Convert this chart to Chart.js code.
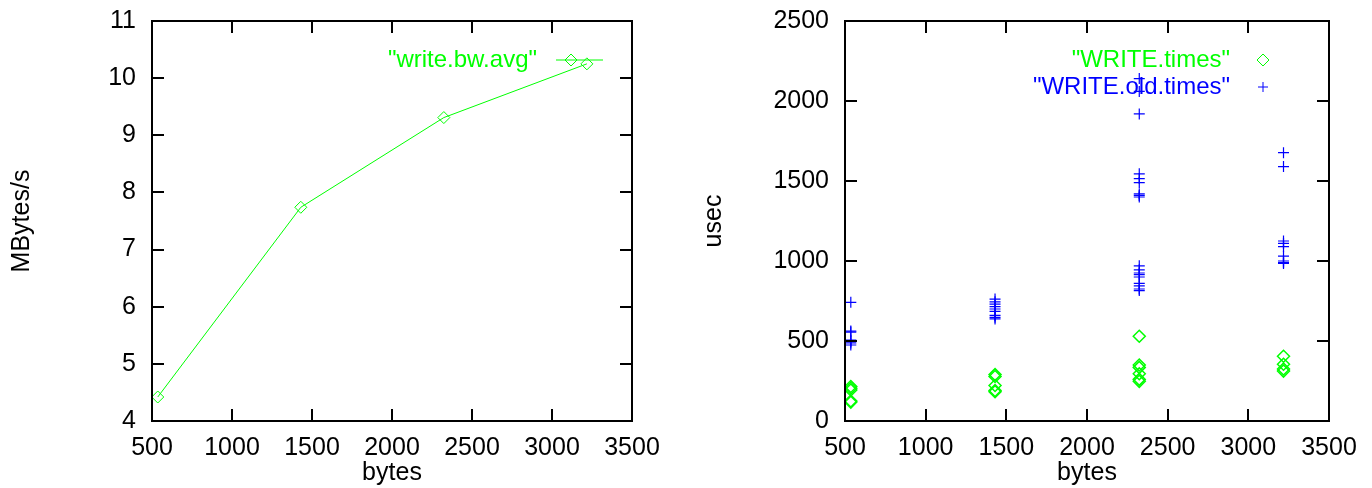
<!DOCTYPE html>
<html>
<head>
<meta charset="utf-8">
<title>write bandwidth / write times</title>
<script src="https://cdn.jsdelivr.net/npm/chart.js@4/dist/chart.umd.min.js"></script>
<style>
  html, body { margin: 0; padding: 0; background: #fff; }
  #wrap { position: relative; width: 1372px; height: 488px; overflow: hidden; }
  canvas { position: absolute; top: 0; }
</style>
</head>
<body>
<div id="wrap">
  <canvas id="bwchart" width="686" height="488" style="left:0"></canvas>
  <canvas id="timeschart" width="686" height="488" style="left:686px"></canvas>
</div>
<script>
// message sizes (bytes) used by both plots
const sizes = [536, 1430, 2324, 3218];

// left plot: average write bandwidth
const bwAvg = [4.42, 7.74, 9.31, 10.25];

// right plot: individual samples per size, in usec
const writeTimes = [
  [216, 205, 194, 125, 118],
  [290, 278, 222, 190, 183],
  [530, 350, 335, 295, 260, 248],
  [405, 355, 325, 312]
];
const writeOldTimes = [
  [742, 562, 556, 505, 498, 488, 475],
  [762, 745, 730, 715, 700, 685, 660, 648, 638],
  [2140, 2060, 1919, 1545, 1515, 1490, 1420, 1410, 1400,
   970, 945, 925, 915, 900, 860, 845, 825, 815],
  [1677, 1590, 1125, 1110, 1090, 1030, 1000, 990, 985]
];

// tick labels
const bytesTicks = [500, 1000, 1500, 2000, 2500, 3000, 3500];
const bwTicks = [4, 5, 6, 7, 8, 9, 10, 11];
const usecTicks = [0, 500, 1000, 1500, 2000, 2500];

const GREEN = "#00ff00";
const BLUE = "#0000ff";
const FONT = "'Liberation Sans', Arial, sans-serif";

Chart.defaults.font.family = FONT;
Chart.defaults.font.size = 25;
Chart.defaults.color = "#000";

function samples(lists) {
    const pts = [];
    lists.forEach((list, i) => list.forEach(v => pts.push({ x: sizes[i], y: v })));
    return pts;
}

function marker(ctx, style, x, y, r) {
    ctx.beginPath();
    if (style === "rectRot") {
        ctx.moveTo(x, y - r); ctx.lineTo(x + r, y);
        ctx.lineTo(x, y + r); ctx.lineTo(x - r, y);
        ctx.closePath();
    } else {
        ctx.moveTo(x - r, y); ctx.lineTo(x + r, y);
        ctx.moveTo(x, y - r); ctx.lineTo(x, y + r);
    }
    ctx.stroke();
}

// gnuplot-like box: border, inward ticks on all sides, key inside top right
const gnuplotFrame = {
    id: "gnuplotFrame",
    afterDraw(chart, args, opts) {
        const { ctx, chartArea: a, scales } = chart;
        const len = 12;
        ctx.save();
        ctx.strokeStyle = "#000";
        ctx.lineWidth = 2;
        ctx.strokeRect(a.left, a.top, a.right - a.left, a.bottom - a.top);
        ctx.beginPath();
        scales.x.ticks.forEach(t => {
            const px = Math.round(scales.x.getPixelForValue(t.value));
            if (px <= a.left + 1 || px >= a.right - 1) return;
            ctx.moveTo(px, a.bottom); ctx.lineTo(px, a.bottom - len);
            ctx.moveTo(px, a.top); ctx.lineTo(px, a.top + len);
        });
        scales.y.ticks.forEach(t => {
            const py = Math.round(scales.y.getPixelForValue(t.value));
            if (py <= a.top + 1 || py >= a.bottom - 1) return;
            ctx.moveTo(a.left, py); ctx.lineTo(a.left + len, py);
            ctx.moveTo(a.right, py); ctx.lineTo(a.right - len, py);
        });
        ctx.stroke();

        // key
        ctx.font = "24px " + FONT;
        ctx.textAlign = "right";
        ctx.textBaseline = "middle";
        (opts.items || []).forEach((it, i) => {
            const y = a.top + 39 + i * 27;
            ctx.fillStyle = it.color;
            ctx.fillText(it.text, a.right - opts.textGap, y);
            ctx.strokeStyle = it.color;
            ctx.lineWidth = 1;
            if (it.line) {
                ctx.beginPath();
                ctx.moveTo(a.right - 76, y); ctx.lineTo(a.right - 29, y);
                ctx.stroke();
            }
            marker(ctx, it.style, a.right - opts.markerGap, y, it.style === "rectRot" ? 6 : 5);
        });
        ctx.restore();
    }
};

// invisible tick marks only provide the gap between axis and labels
function hiddenGrid(len) {
    return { display: true, drawOnChartArea: false, drawTicks: true, tickLength: len, color: "rgba(0,0,0,0)", tickColor: "rgba(0,0,0,0)" };
}

function axes(yTicks, yTitle, yWidth, yTitlePad, yMin, yMax) {
    return {
        x: {
            type: "linear",
            min: 500, max: 3500,
            afterBuildTicks: s => { s.ticks = bytesTicks.map(v => ({ value: v })); },
            afterFit: s => { s.height = 67; },
            grid: hiddenGrid(12),
            border: { display: false },
            ticks: { padding: 0, maxRotation: 0, callback: v => String(v) },
            title: { display: true, text: "bytes", padding: { top: 0, bottom: 0 } }
        },
        y: {
            type: "linear",
            min: yMin, max: yMax,
            afterBuildTicks: s => { s.ticks = yTicks.map(v => ({ value: v })); },
            afterFit: s => { s.width = yWidth; },
            grid: hiddenGrid(16),
            border: { display: false },
            ticks: { padding: 0, callback: v => String(v) },
            title: { display: true, text: yTitle, padding: { top: yTitlePad, bottom: 0 } }
        }
    };
}

new Chart(document.getElementById("bwchart"), {
    type: "scatter",
    data: {
        datasets: [{
            label: '"write.bw.avg"',
            data: sizes.map((s, i) => ({ x: s, y: bwAvg[i] })),
            showLine: true,
            borderColor: GREEN,
            borderWidth: 1,
            pointStyle: "rectRot",
            pointRadius: 6,
            pointBorderWidth: 1,
            pointBorderColor: GREEN,
            pointBackgroundColor: "rgba(0,0,0,0)"
        }]
    },
    options: {
        responsive: false,
        animation: false,
        devicePixelRatio: 1,
        layout: { padding: { top: 21, right: 54, bottom: 0, left: 0 } },
        scales: axes(bwTicks, "MBytes/s", 152, 7, 4, 11),
        plugins: {
            legend: { display: false },
            tooltip: { enabled: false },
            gnuplotFrame: {
                textGap: 95, markerGap: 61,
                items: [{ text: '"write.bw.avg"', color: GREEN, style: "rectRot", line: true }]
            }
        }
    },
    plugins: [gnuplotFrame]
});

new Chart(document.getElementById("timeschart"), {
    type: "scatter",
    data: {
        datasets: [{
            label: '"WRITE.times"',
            data: samples(writeTimes),
            pointStyle: "rectRot",
            pointRadius: 6,
            pointBorderWidth: 1.5,
            pointBorderColor: GREEN,
            pointBackgroundColor: "rgba(0,0,0,0)"
        }, {
            label: '"WRITE.old.times"',
            data: samples(writeOldTimes),
            pointStyle: "cross",
            pointRadius: 5.5,
            pointBorderWidth: 1.2,
            pointBorderColor: BLUE,
            pointBackgroundColor: BLUE
        }]
    },
    options: {
        responsive: false,
        animation: false,
        devicePixelRatio: 1,
        layout: { padding: { top: 21, right: 43, bottom: 0, left: 0 } },
        scales: axes(usecTicks, "usec", 159, 13, 0, 2500),
        plugins: {
            legend: { display: false },
            tooltip: { enabled: false },
            gnuplotFrame: {
                textGap: 99, markerGap: 66,
                items: [
                    { text: '"WRITE.times"', color: GREEN, style: "rectRot" },
                    { text: '"WRITE.old.times"', color: BLUE, style: "cross" }
                ]
            }
        }
    },
    plugins: [gnuplotFrame]
});
</script>
</body>
</html>
